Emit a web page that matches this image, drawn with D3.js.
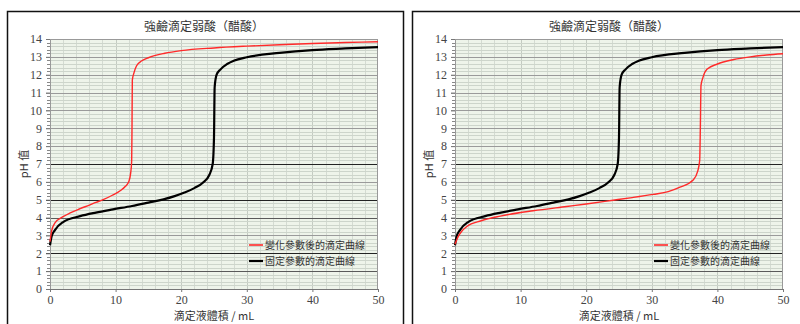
<!DOCTYPE html>
<html>
<head>
<meta charset="utf-8">
<script src="https://cdn.jsdelivr.net/npm/d3@7"></script>
<style>
  body { margin: 0; background: #fff; }
</style>
</head>
<body>
<svg id="chart" width="800" height="324"></svg>
<script>
// ============================================================
// Data
// ============================================================
const chartTitle = '強鹼滴定弱酸（醋酸）';
const xLabel = '滴定液體積 / mL';
const yLabel = 'pH 值';
const legendLabels = ['變化參數後的滴定曲線', '固定參數的滴定曲線'];

const xTicks = [0, 10, 20, 30, 40, 50];
const yTicks = [0, 1, 2, 3, 4, 5, 6, 7, 8, 9, 10, 11, 12, 13, 14];

// fixed-parameter curve (black), same in both panels: [mL, pH]
const fixedCurve = [
    [0, 2.45], [0.25, 2.95], [0.75, 3.3], [2, 3.75], [4.6, 4.08], [7, 4.28],
    [9.6, 4.46], [12.5, 4.65], [15, 4.84], [17.3, 5.02], [19, 5.2], [20.5, 5.4],
    [22, 5.65], [23.3, 5.95], [24.3, 6.4], [24.8, 7.0], [25, 8.5], [25.1, 11.3],
    [25.4, 12.0], [26, 12.3], [27, 12.6], [28, 12.78], [30, 12.98], [35, 13.22],
    [40, 13.38], [45, 13.47], [50, 13.55]
];

// changed-parameter curve, left panel (red)
const changedLeft = [
    [0, 2.65], [0.25, 3.25], [0.76, 3.7], [2, 4.05], [3, 4.25], [4.6, 4.5],
    [6, 4.7], [7, 4.85], [8.1, 5.0], [9.5, 5.25], [10.7, 5.5], [11.5, 5.75],
    [12, 6.0], [12.3, 6.5], [12.45, 7.2], [12.5, 9.0], [12.55, 11.7], [12.8, 12.1],
    [13.2, 12.5], [14, 12.78], [15, 12.95], [17.5, 13.2], [20, 13.35],
    [25, 13.5], [30, 13.6], [35, 13.68], [40, 13.75], [45, 13.8], [50, 13.85]
];

// changed-parameter curve, right panel (red)
const changedRight = [
    [0, 2.5], [0.5, 2.95], [1, 3.22], [1.8, 3.5], [4, 3.82], [6.9, 4.08],
    [11.9, 4.38], [17, 4.62], [20, 4.76], [24.1, 4.97], [27, 5.12], [30.2, 5.3],
    [32.5, 5.45], [34.3, 5.7], [36.3, 6.1], [37, 6.6], [37.3, 7.2], [37.4, 9.0],
    [37.5, 11.4], [37.8, 11.85], [38.4, 12.3], [40, 12.6], [42.5, 12.85],
    [45, 13.0], [47.5, 13.1], [50, 13.17]
];

const COLORS = {
    changed: '#ff2a2a',
    fixed: '#000',
    plotBg: '#eef4ea',
    minorGrid: '#cdd5cb',
    vGrid: '#d4dbd2',
    majorGrid: '#9a9a9a',
    midGrid: '#5a5a5a',
    darkGrid: '#222'
};

// pH lines drawn darker in the reference
const darkLines = [2, 5, 7];
const midLines = [1, 4];

// ============================================================
// Layout
// ============================================================
const panels = [
    { frameX: 7, plotX: 50, red: changedLeft },
    { frameX: 412, plotX: 455, red: changedRight }
];
const plotTop = 39, plotH = 250, plotW = 328;
const frameTop = 11, frameW = 396;

const svg = d3.select('#chart');
const numFont = 'Liberation Serif';
const cjkFont = '"Noto Sans CJK TC"';

panels.forEach(p => {
    const g = svg.append('g');

    // outer frame (bottom edge runs off the picture)
    g.append('rect')
        .attr('x', p.frameX + 0.5).attr('y', frameTop + 0.5)
        .attr('width', frameW).attr('height', 340)
        .attr('fill', 'none').attr('stroke', '#111').attr('stroke-width', 1.5);

    const x = d3.scaleLinear().domain([0, 50]).range([p.plotX, p.plotX + plotW]);
    const y = d3.scaleLinear().domain([0, 14]).range([plotTop + plotH, plotTop]);

    g.append('rect')
        .attr('x', p.plotX).attr('y', plotTop)
        .attr('width', plotW).attr('height', plotH)
        .attr('fill', COLORS.plotBg);

    // vertical grid every 2 mL
    g.append('g')
        .selectAll('line')
        .data(d3.range(2, 50, 2))
        .join('line')
        .attr('x1', d => Math.round(x(d)) + 0.5).attr('x2', d => Math.round(x(d)) + 0.5)
        .attr('y1', plotTop).attr('y2', plotTop + plotH)
        .attr('stroke', d => d % 10 === 0 ? '#c4cbc2' : COLORS.vGrid);

    // minor horizontal grid every 0.2 pH
    const minor = d3.range(0, 14, 0.2).filter(v => Math.abs(v - Math.round(v)) > 0.01);
    g.append('g')
        .selectAll('line')
        .data(minor)
        .join('line')
        .attr('x1', p.plotX).attr('x2', p.plotX + plotW)
        .attr('y1', d => Math.round(y(d)) + 0.5).attr('y2', d => Math.round(y(d)) + 0.5)
        .attr('stroke', COLORS.minorGrid);

    // minor ticks on the y axis
    g.append('g')
        .selectAll('line')
        .data(minor)
        .join('line')
        .attr('x1', p.plotX - 3).attr('x2', p.plotX)
        .attr('y1', d => Math.round(y(d)) + 0.5).attr('y2', d => Math.round(y(d)) + 0.5)
        .attr('stroke', '#888');

    // major horizontal grid
    g.append('g')
        .selectAll('line')
        .data(yTicks.slice(1, -1))
        .join('line')
        .attr('x1', p.plotX - 4).attr('x2', p.plotX + plotW)
        .attr('y1', d => Math.round(y(d)) + 0.5).attr('y2', d => Math.round(y(d)) + 0.5)
        .attr('stroke', d => darkLines.includes(d) ? COLORS.darkGrid
            : midLines.includes(d) ? COLORS.midGrid : COLORS.majorGrid)
        .attr('stroke-width', d => darkLines.includes(d) ? 1.2 : 1);

    // plot border
    g.append('rect')
        .attr('x', p.plotX + 0.5).attr('y', plotTop + 0.5)
        .attr('width', plotW - 1).attr('height', plotH)
        .attr('fill', 'none').attr('stroke', '#999');

    // axes
    const xAxis = g.append('g')
        .attr('transform', `translate(0, ${plotTop + plotH})`)
        .call(d3.axisBottom(x).tickValues(xTicks).tickSize(3).tickFormat(d3.format('d')))
        .attr('font-family', numFont).attr('font-size', 12);
    xAxis.select('.domain').attr('stroke', '#777');
    xAxis.selectAll('.tick line').attr('stroke', '#777');
    xAxis.selectAll('.tick text')
        .attr('dy', '0.75em')
        .attr('font-family', numFont)
        .attr('fill', '#444');

    const yAxis = g.append('g')
        .attr('transform', `translate(${p.plotX}, 0)`)
        .call(d3.axisLeft(y).tickValues(yTicks).tickSize(4).tickFormat(d3.format('d')))
        .attr('font-family', numFont).attr('font-size', 12);
    yAxis.select('.domain').remove();
    yAxis.selectAll('.tick line').attr('stroke', '#777');
    yAxis.selectAll('.tick text')
        .attr('x', -8)
        .attr('font-family', numFont)
        .attr('fill', '#444');

    // curves
    const line = d3.line()
        .x(d => x(d[0]))
        .y(d => y(d[1]))
        .curve(d3.curveMonotoneX);

    g.append('path')
        .datum(fixedCurve)
        .attr('d', line)
        .attr('fill', 'none').attr('stroke', COLORS.fixed).attr('stroke-width', 2.2);

    g.append('path')
        .datum(p.red)
        .attr('d', line)
        .attr('fill', 'none').attr('stroke', COLORS.changed).attr('stroke-width', 1.4);

    // titles
    g.append('text')
        .attr('x', p.plotX + plotW / 2 - 10).attr('y', 31)
        .attr('text-anchor', 'middle')
        .style('font-family', cjkFont).style('font-size', '12px').style('fill', '#333')
        .text(chartTitle);

    g.append('text')
        .attr('x', p.plotX + plotW / 2).attr('y', 320)
        .attr('text-anchor', 'middle')
        .style('font-family', cjkFont).style('font-size', '11px').style('fill', '#333')
        .text(xLabel);

    g.append('text')
        .attr('transform', `translate(${p.plotX - 22}, ${plotTop + plotH / 2}) rotate(-90)`)
        .attr('text-anchor', 'middle')
        .style('font-family', cjkFont).style('font-size', '11px').style('fill', '#333')
        .text(yLabel);

    // legend
    const lx = p.plotX + plotW - 129;
    const legendItems = [
        { label: legendLabels[0], color: COLORS.changed, w: 1.6 },
        { label: legendLabels[1], color: COLORS.fixed, w: 2.2 }
    ];
    legendItems.forEach((item, i) => {
        const ly = 245 + i * 16;
        g.append('line')
            .attr('x1', lx).attr('x2', lx + 14)
            .attr('y1', ly).attr('y2', ly)
            .attr('stroke', item.color).attr('stroke-width', item.w);
        g.append('text')
            .attr('x', lx + 16).attr('y', ly + 4)
            .style('font-family', cjkFont).style('font-size', '10px').style('fill', '#333')
            .text(item.label);
    });
});
</script>
</body>
</html>
